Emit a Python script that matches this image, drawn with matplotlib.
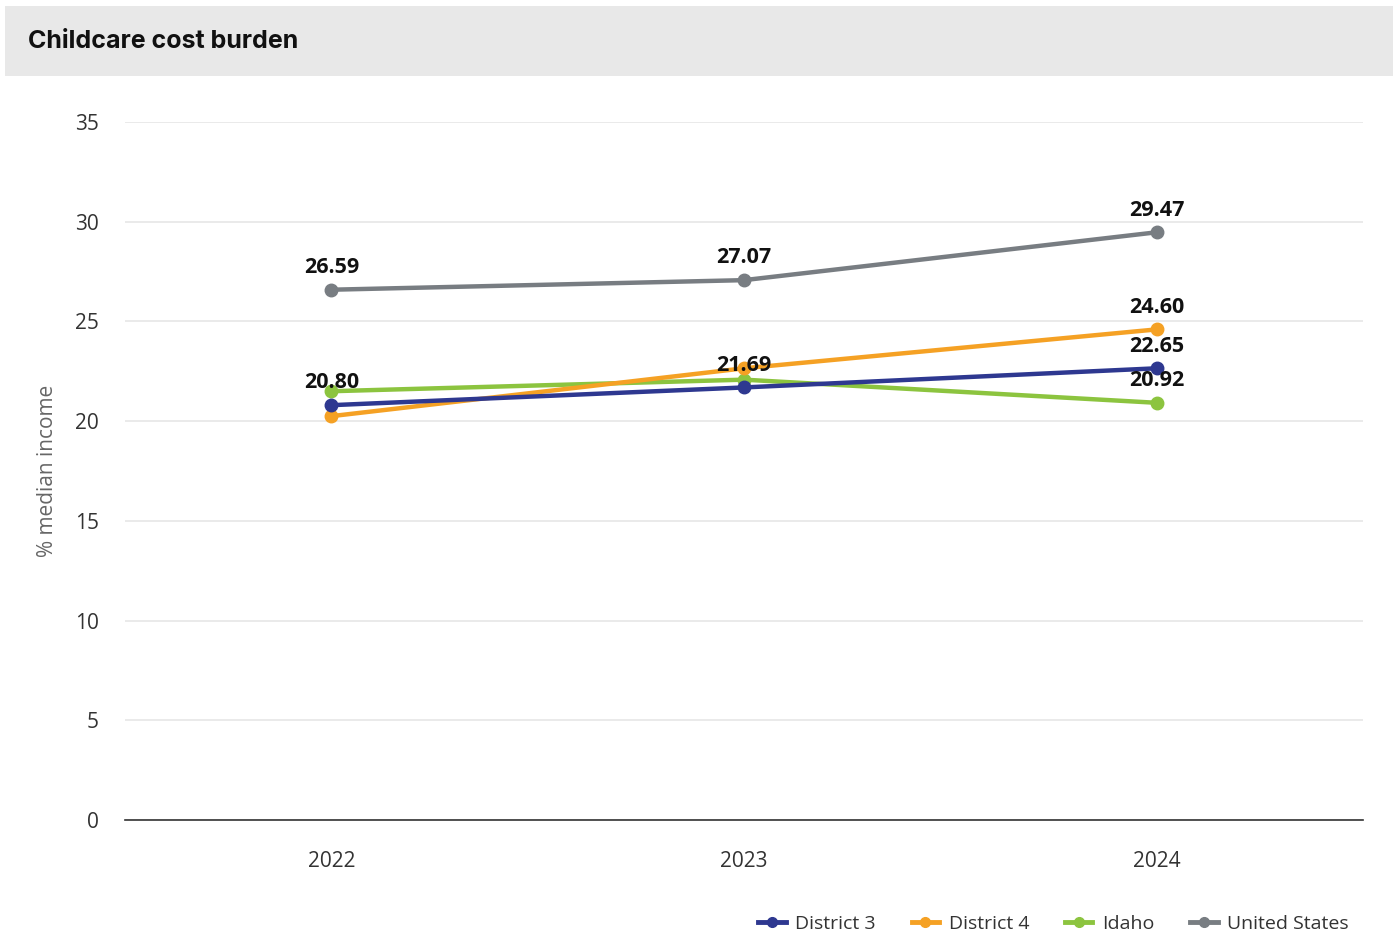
import matplotlib
matplotlib.use("Agg")
import matplotlib.pyplot as plt
from matplotlib.patches import Rectangle
from matplotlib.lines import Line2D

years = ["2022", "2023", "2024"]
district3 = [20.80, 21.69, 22.65]
district4 = [20.25, 22.65, 24.60]
idaho = [21.50, 22.08, 20.92]
united_states = [26.59, 27.07, 29.47]

series_names = ["District 3", "District 4", "Idaho", "United States"]
series_values = [district3, district4, idaho, united_states]
series_colors = ["#2e3890", "#f5a124", "#8cc43f", "#787d82"]
# which points carry a value label (others are hidden to avoid clutter)
labelled = [[True, True, True], [False, False, True], [False, False, True], [True, True, True]]

plt.rcParams["font.family"] = ["Open Sans", "DejaVu Sans"]

W, H = 1393, 936
fig = plt.figure(figsize=(W / 100, H / 100), dpi=100)

# header band
fig.patches.append(Rectangle((5 / W, 1 - 76 / H), (W - 5) / W, 70 / H,
                             transform=fig.transFigure, facecolor="#e8e8e8",
                             edgecolor="none", zorder=0))
fig.text(28 / W, 1 - 41 / H, "Childcare cost burden", fontsize=18,
         fontweight="bold", family=["Inter", "DejaVu Sans"], va="center", ha="left",
         color="#111111")

ax = fig.add_axes([125 / W, 1 - 820 / H, (1363 - 125) / W, (820 - 122) / H])
x = list(range(len(years)))

z = {0: 6, 1: 5, 2: 4, 3: 3}
for i in [3, 2, 1, 0]:
    ax.plot(x, series_values[i], color=series_colors[i], lw=3.2, marker="o",
            markersize=9, zorder=z[i], solid_capstyle="round")

for i, vals in enumerate(series_values):
    for j, v in enumerate(vals):
        if labelled[i][j]:
            ax.annotate(f"{v:.2f}", (x[j], v), xytext=(0, 16), textcoords="offset points",
                        ha="center", va="center", fontsize=15.5, fontweight="bold",
                        color="#111111", zorder=10)

ax.set_xlim(-0.5, 2.5)
ax.set_ylim(0, 35)
ax.set_yticks(range(0, 36, 5))
ax.set_xticks(x)
ax.set_xticklabels(years)
ax.grid(axis="y", color="#e6e6e6", lw=1.2)
ax.set_axisbelow(True)
for s in ["top", "right", "left"]:
    ax.spines[s].set_visible(False)
ax.spines["bottom"].set_color("#333333")
ax.spines["bottom"].set_linewidth(1.2)
ax.tick_params(axis="both", length=0, labelsize=15, colors="#333333")
ax.tick_params(axis="y", pad=19)
ax.tick_params(axis="x", pad=22)
ax.set_ylabel("% median income", fontsize=15, color="#666666")
ax.yaxis.set_label_coords(-67 / (1363 - 125), 0.5)

handles = [Line2D([0], [0], color=c, lw=3.5, marker="o", markersize=7) for c in series_colors]
fig.legend(handles, series_names, loc="center right", bbox_to_anchor=(1349 / W, 1 - 924 / H),
           ncol=4, frameon=False, fontsize=14, handlelength=1.4, handletextpad=0.5,
           columnspacing=1.85, labelcolor="#333333", borderaxespad=0, borderpad=0)

fig.savefig("out.png", dpi=100, facecolor="white")
